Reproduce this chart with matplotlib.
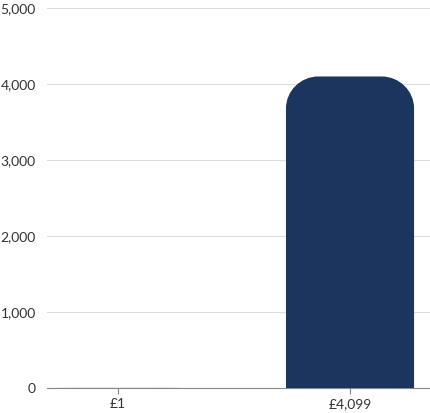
import matplotlib
matplotlib.use('Agg')
import matplotlib.pyplot as plt
from matplotlib.path import Path
from matplotlib.patches import PathPatch

categories = ['£1', '£4,099']
values = [1, 4099]
yticks = [0, 1000, 2000, 3000, 4000, 5000]
ytick_labels = ['0', '1,000', '2,000', '3,000', '4,000', '5,000']

plt.rcParams['font.family'] = ['Lato', 'DejaVu Sans']

fig = plt.figure(figsize=(4.31, 4.13), dpi=100)
ax = fig.add_axes([47 / 431, 1 - 388 / 413, 384 / 431, 380 / 413])
ax.set_xlim(-0.306, 1.349)
ax.set_ylim(0, 5000)

width = 0.552
rx, ry = 0.14, 420


def rounded_bar(x, h):
    x0, x1 = x - width / 2, x + width / 2
    r_y = min(ry, h)
    k = 0.55
    verts = [(x0, 0), (x0, h - r_y),
             (x0, h - r_y + k * r_y), (x0 + rx - k * rx, h), (x0 + rx, h),
             (x1 - rx, h),
             (x1 - rx + k * rx, h), (x1, h - r_y + k * r_y), (x1, h - r_y),
             (x1, 0), (x0, 0)]
    codes = [Path.MOVETO, Path.LINETO,
             Path.CURVE4, Path.CURVE4, Path.CURVE4,
             Path.LINETO,
             Path.CURVE4, Path.CURVE4, Path.CURVE4,
             Path.LINETO, Path.CLOSEPOLY]
    return PathPatch(Path(verts, codes), facecolor='#1c355e', edgecolor='none', zorder=3)


for i, v in enumerate(values):
    ax.add_patch(rounded_bar(i, v))

ax.set_yticks(yticks)
ax.set_yticklabels(ytick_labels)
ax.set_xticks(range(len(categories)))
ax.set_xticklabels(categories)
ax.grid(axis='y', color='#dddddd', linewidth=0.8, zorder=0)
for s in ['top', 'right', 'left']:
    ax.spines[s].set_visible(False)
ax.spines['bottom'].set_color('#888888')
ax.tick_params(axis='y', length=0, labelsize=10, colors='#333333', pad=8)
ax.tick_params(axis='x', length=4, labelsize=10, colors='#333333', color='#888888')

fig.savefig('out.png', dpi=100)
